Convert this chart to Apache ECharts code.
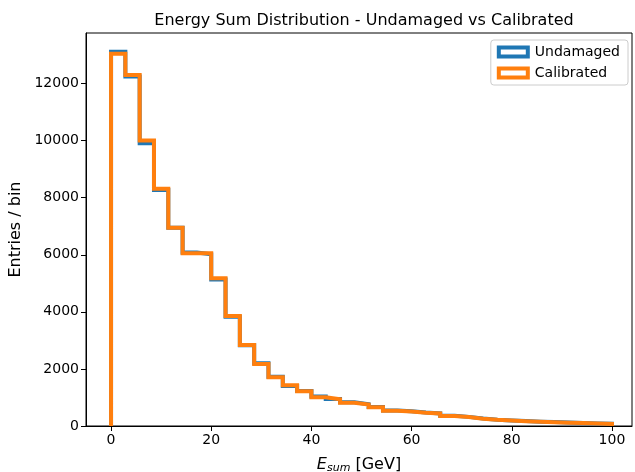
<!DOCTYPE html>
<html><head><meta charset="utf-8">
<script src="https://cdn.jsdelivr.net/npm/echarts@6/dist/echarts.min.js"></script>
<style>html,body{margin:0;padding:0;background:#fff}#c{width:635px;height:472px}</style>
</head><body><div id="c"></div>
<script>
// histogram: 35 bins spanning 0..100 GeV
const binLow = 0;
const binHigh = 100;
const undamaged = [13110, 12250, 9910, 8270, 6950, 6080, 6020, 5130, 3830, 2830, 2200, 1730, 1400, 1230, 1030, 950, 830, 760, 670, 545, 515, 470, 440, 360, 320, 260, 222, 196, 172, 152, 136, 121, 106, 91, 77];
const calibrated = [13040, 12300, 10000, 8310, 6950, 6050, 6050, 5180, 3850, 2840, 2170, 1705, 1425, 1215, 1005, 935, 812, 752, 660, 537, 508, 462, 438, 352, 315, 255, 216, 190, 166, 146, 131, 116, 101, 86, 72];
const xTicks = [0, 20, 40, 60, 80, 100];
const yTicks = [0, 2000, 4000, 6000, 8000, 10000, 12000];

function stepPoints(vals) {
  const w = (binHigh - binLow) / vals.length;
  const pts = [[binLow, 0]];
  vals.forEach((v, i) => {
    pts.push([binLow + i * w, v]);
    pts.push([binLow + (i + 1) * w, v]);
  });
  pts.push([binHigh, 0]);
  return pts;
}

const FONT = 'DejaVu Sans';
const chart = echarts.init(document.getElementById('c'), null, {renderer: 'canvas'});
chart.setOption({
  animation: false,
  backgroundColor: '#fff',
  textStyle: {fontFamily: FONT},
  title: {
    text: 'Energy Sum Distribution - Undamaged vs Calibrated',
    left: 359, top: 8, textAlign: 'center',
    textStyle: {fontFamily: FONT, fontSize: 16, fontWeight: 'normal', color: '#000'}
  },
  legend: {
    orient: 'vertical',
    right: 7, top: 40,
    padding: [5, 8, 5, 6],
    itemGap: 7,
    itemWidth: 29, itemHeight: 9,
    backgroundColor: 'rgba(255,255,255,0.8)',
    borderColor: '#cccccc', borderWidth: 1, borderRadius: 3,
    textStyle: {fontFamily: FONT, fontSize: 14, color: '#000', padding: [0, 0, 0, 2]},
    data: [
      {name: 'Undamaged', icon: 'rect', itemStyle: {color: '#fff', borderColor: '#1f77b4', borderWidth: 4}},
      {name: 'Calibrated', icon: 'rect', itemStyle: {color: '#fff', borderColor: '#ff7f0e', borderWidth: 4}}
    ]
  },
  grid: {left: 86, right: 3, top: 33, bottom: 46, outerBoundsMode: 'none', containLabel: false,
         show: true, borderColor: '#000', borderWidth: 1, backgroundColor: 'transparent'},
  xAxis: {
    type: 'value', min: -5, max: 104,
    name: '{e|E}{s|sum} [GeV]', nameLocation: 'middle', nameGap: 29,
    nameTextStyle: {fontFamily: FONT, fontSize: 16, color: '#000', rich: {
      e: {fontFamily: FONT, fontSize: 16, fontStyle: 'italic', color: '#000'},
      s: {fontFamily: FONT, fontSize: 11, fontStyle: 'italic', color: '#000', verticalAlign: 'bottom', padding: [8, 0, 0, 0]}
    }},
    axisLine: {onZero: false, lineStyle: {color: '#000', width: 1}},
    axisTick: {show: true, length: 5, inside: false, lineStyle: {color: '#000'}, customValues: xTicks},
    axisLabel: {fontFamily: FONT, fontSize: 14, color: '#000', margin: 7, customValues: xTicks, formatter: v => String(v)},
    splitLine: {show: false}
  },
  yAxis: {
    type: 'value', min: 0, max: 13770,
    name: 'Entries / bin', nameLocation: 'middle', nameGap: 62, nameRotate: 90,
    nameTextStyle: {fontFamily: FONT, fontSize: 16, color: '#000'},
    axisLine: {show: true, onZero: false, lineStyle: {color: '#000', width: 1}},
    axisTick: {show: true, length: 5, inside: false, lineStyle: {color: '#000'}, customValues: yTicks},
    axisLabel: {fontFamily: FONT, fontSize: 14, color: '#000', margin: 7, customValues: yTicks, formatter: v => String(v)},
    splitLine: {show: false}
  },
  series: [
    {name: 'Undamaged', type: 'line', data: stepPoints(undamaged), showSymbol: false, symbol: 'none',
     lineStyle: {color: '#1f77b4', width: 4, join: 'miter'}, itemStyle: {color: '#1f77b4'}, z: 2},
    {name: 'Calibrated', type: 'line', data: stepPoints(calibrated), showSymbol: false, symbol: 'none',
     lineStyle: {color: '#ff7f0e', width: 4, join: 'miter'}, itemStyle: {color: '#ff7f0e'}, z: 3}
  ]
});
</script></body></html>
